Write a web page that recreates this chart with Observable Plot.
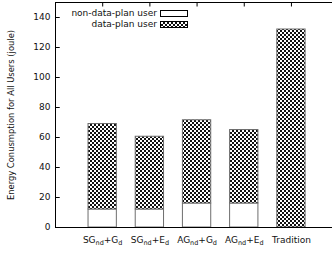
<!DOCTYPE html>
<html><head><meta charset="utf-8">
<script src="https://cdn.jsdelivr.net/npm/d3@7"></script>
<script src="https://cdn.jsdelivr.net/npm/@observablehq/plot@0.6"></script>
<style>
body{margin:0;background:#fff;}
#wrap{position:relative;width:332px;height:256px;overflow:hidden;font-family:"DejaVu Sans",sans-serif;}
.leg{position:absolute;left:0;width:157px;text-align:right;font-size:9px;line-height:11px;color:#111;}
.sw{position:absolute;left:160px;width:26px;height:5px;border:1px solid #000;box-sizing:content-box;}
</style></head>
<body><div id="wrap"></div>
<script>
const categories = ["SG_{nd}+G_{d}", "SG_{nd}+E_{d}", "AG_{nd}+G_{d}", "AG_{nd}+E_{d}", "Tradition"];
const nonDataPlan = [12, 12, 16, 16, 0];
const dataPlan = [57, 48.5, 55.5, 49, 132];
const seriesNames = ["non-data-plan user", "data-plan user"];
const yTicks = [0, 20, 40, 60, 80, 100, 120, 140];
const yLabel = "Energy Conusmption for All Users (joule)";

const rows = categories.map((c, i) => ({i, c, nd: nonDataPlan[i], dp: dataPlan[i]}));
const idx = rows.map(d => d.i);
const hw = 0.3;

const plot = Plot.plot({
  width: 332, height: 256,
  marginLeft: 55, marginRight: 0, marginTop: 2, marginBottom: 29,
  style: {fontFamily: "DejaVu Sans, sans-serif", fontSize: "9px", color: "#111", background: "#fff"},
  x: {type: "linear", domain: [-1, 4.87], axis: null},
  y: {domain: [0, 150], axis: null},
  marks: [
    Plot.rect(rows.filter(d => d.nd > 0), {x1: d => d.i - hw, x2: d => d.i + hw, y1: 0, y2: d => d.nd, fill: "#fff", stroke: "#6e6e6e", strokeWidth: 1}),
    Plot.rect(rows, {x1: d => d.i - hw, x2: d => d.i + hw, y1: d => d.nd, y2: d => d.nd + d.dp, fill: "#000", stroke: "#6e6e6e", strokeWidth: 1, ariaDescription: "dataplan"}),
    Plot.ruleY([0, 150], {stroke: "#000", strokeWidth: 1}),
    Plot.ruleX([-1], {y1: 0, y2: 150, stroke: "#000", strokeWidth: 1}),
    Plot.ruleY(yTicks, {y: d => d, x1: -1, x2: -1 + 0.1, stroke: "#000"}),
    Plot.ruleX(idx, {x: d => d, y1: 150, y2: 147, stroke: "#000"}),
    Plot.axisY(yTicks, {tickSize: 0, tickPadding: 5, fontSize: 9, ariaDescription: "yaxis"}),
    Plot.axisY({ticks: [], tickSize: 0, label: yLabel, labelAnchor: "center", labelArrow: "none", labelOffset: 47, fontSize: 8.4}),
    Plot.text(rows, {x: "i", y: 0, dy: 13, text: "c", fontSize: 9, ariaDescription: "xlabels"})
  ]
});

const ns = "http://www.w3.org/2000/svg";
const defs = document.createElementNS(ns, "defs");
defs.innerHTML = '<pattern id="xh" width="4" height="4" patternUnits="userSpaceOnUse"><rect width="4" height="4" fill="#111"/><rect x="0" y="0" width="2" height="2" fill="#fff"/><rect x="2" y="2" width="2" height="2" fill="#fff"/></pattern>';
plot.insertBefore(defs, plot.firstChild);
plot.querySelectorAll('g[aria-description="dataplan"] rect').forEach(r => r.setAttribute("fill", "url(#xh)"));

plot.querySelectorAll('g[aria-description="xlabels"] text').forEach(t => {
  const s = t.textContent;
  t.textContent = "";
  const parts = s.split(/_\{([^}]*)\}/);
  let shifted = false;
  parts.forEach((p, k) => {
    if (!p) return;
    const ts = document.createElementNS(ns, "tspan");
    ts.textContent = p;
    if (k % 2 === 1) { ts.setAttribute("font-size", "6.5px"); ts.setAttribute("dy", "2"); shifted = true; }
    else if (shifted) { ts.setAttribute("dy", "-2"); shifted = false; }
    t.appendChild(ts);
  });
});

const wrap = document.getElementById("wrap");
wrap.appendChild(plot);
const legTops = [8, 19];
const swTops = [10, 21];
seriesNames.forEach((n, k) => {
  const l = document.createElement("div");
  l.className = "leg"; l.style.top = legTops[k] + "px"; l.textContent = n;
  wrap.appendChild(l);
  const s = document.createElement("div");
  s.className = "sw"; s.style.top = swTops[k] + "px";
  s.style.background = k === 0 ? "#fff" : "repeating-conic-gradient(#111 0 25%, #fff 0 50%) 0 0/4px 4px";
  wrap.appendChild(s);
});
</script></body></html>
